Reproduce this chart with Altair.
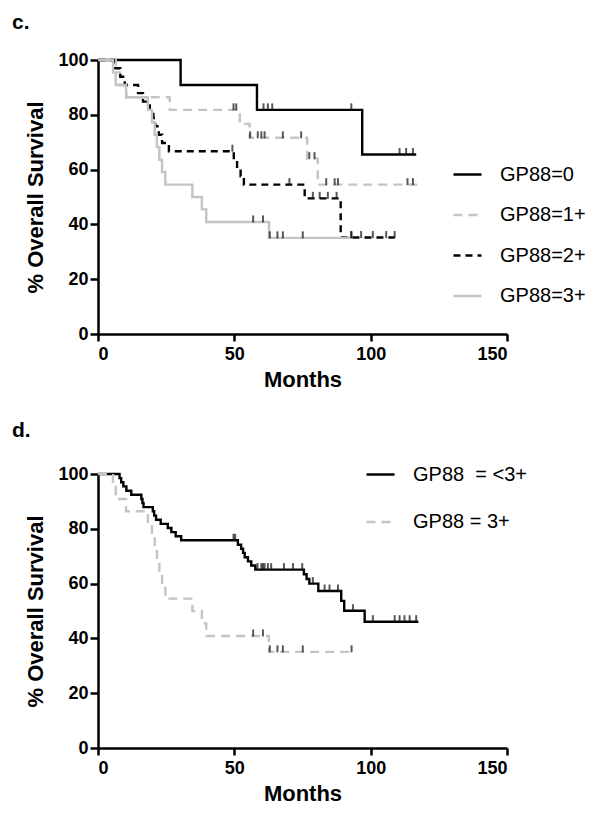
import altair as alt
import pandas as pd

# ---------------- Panel c data ----------------
groups_c = ["GP88=0", "GP88=1+", "GP88=2+", "GP88=3+"]

t_g0 = [0, 30.3, 58.3, 96.9, 116.7]
s_g0 = [100, 90.9, 81.8, 65.5, 65.5]
ct_g0 = [60.7, 62.3, 63.9, 92.9, 110.6, 113.0, 115.5]
cs_g0 = [81.8, 81.8, 81.8, 81.8, 65.5, 65.5, 65.5]

t_g1 = [0, 6.5, 8.0, 10.4, 26.3, 52.0, 55.6, 76.7, 80.6, 117.3]
s_g1 = [100, 95.5, 90.9, 86.4, 81.8, 76.7, 71.6, 64.0, 54.5, 54.5]
ct_g1 = [49.7, 50.7, 55.8, 58.6, 59.9, 61.1, 67.8, 74.5, 77.5, 79.4, 83.7, 86.8, 88.0, 113.5, 115.5]
cs_g1 = [81.8, 81.8, 71.6, 71.6, 71.6, 71.6, 71.6, 71.6, 64.0, 64.0, 54.5, 54.5, 54.5, 54.5, 54.5]

t_g2 = [0, 5.8, 8.2, 9.8, 14.7, 16.5, 19.0, 20.3, 21.0, 22.3, 23.5, 26.0, 49.8, 51.0, 52.3, 53.5, 75.8, 89.0, 108.8]
s_g2 = [100, 97.0, 93.9, 90.9, 87.9, 84.8, 81.8, 78.8, 75.8, 72.7, 69.7, 66.7, 63.6, 60.6, 57.6, 54.5, 49.5, 35.2, 35.2]
ct_g2 = [49.3, 70.2, 78.8, 81.3, 84.3, 87.5, 92.8, 96.5, 100.8, 105.7, 108.8]
cs_g2 = [66.7, 54.5, 49.5, 49.5, 49.5, 49.5, 35.2, 35.2, 35.2, 35.2, 35.2]

t_g3 = [0, 5.5, 6.5, 10.3, 18.3, 19.8, 20.8, 21.6, 22.5, 23.5, 24.7, 34.6, 38.1, 39.7, 62.7, 93.0]
s_g3 = [100, 95.5, 90.9, 86.4, 81.8, 77.3, 72.7, 68.2, 63.6, 59.1, 54.5, 50.0, 45.5, 40.9, 35.1, 35.1]
ct_g3 = [56.9, 60.5, 63.0, 65.8, 67.8, 75.1, 93.0]
cs_g3 = [40.9, 40.9, 35.1, 35.1, 35.1, 35.1, 35.1]

# ---------------- Panel d data ----------------
groups_d = ["GP88\u00a0 = <3+", "GP88 = 3+"]

t_lo = [0, 7.9, 8.5, 9.3, 10.4, 12.2, 15.9, 16.3, 16.7, 20.1, 20.6, 21.3, 23.0, 25.6, 26.9, 28.5, 30.5,
        51.3, 52.5, 53.2, 53.8, 55.0, 56.2, 57.7, 75.5, 76.5, 77.5, 80.8, 89.2, 90.3, 97.8, 117.5]
s_lo = [100, 98.5, 97.0, 95.5, 93.9, 92.4, 90.9, 89.4, 87.9, 86.4, 84.8, 83.3, 81.8, 80.3, 78.8, 77.3, 75.8,
        74.2, 72.7, 71.2, 69.6, 68.1, 66.6, 65.1, 63.4, 61.7, 60.0, 57.3, 53.7, 50.1, 46.1, 46.1]
ct_lo = [49.7, 50.3, 58.5, 59.9, 60.5, 61.1, 62.3, 63.5, 68.2, 71.5, 74.9, 78.8, 83.1, 84.9, 88.0, 93.5,
         100.8, 108.8, 110.6, 112.4, 114.3, 116.7]
cs_lo = [75.8, 75.8, 65.1, 65.1, 65.1, 65.1, 65.1, 65.1, 65.1, 65.1, 65.1, 60.0, 57.3, 57.3, 57.3, 50.1,
         46.1, 46.1, 46.1, 46.1, 46.1, 46.1]

x_ticks = [0, 50, 100, 150]
y_ticks = [0, 20, 40, 60, 80, 100]


def curves(names, ts, ss):
    rows = []
    for n, t, s in zip(names, ts, ss):
        for a, b in zip(t, s):
            rows.append({"group": n, "t": a, "s": b})
    return pd.DataFrame(rows)


lines_c = curves(groups_c, [t_g0, t_g1, t_g2, t_g3], [s_g0, s_g1, s_g2, s_g3])
cens_c = curves(groups_c, [ct_g0, ct_g1, ct_g2, ct_g3], [cs_g0, cs_g1, cs_g2, cs_g3])
lines_d = curves(groups_d, [t_lo, t_g3], [s_lo, s_g3])
cens_d = curves(groups_d, [ct_lo, ct_g3], [cs_lo, cs_g3])

FONT = "Liberation Sans"
GRAY = "#c4c4c4"


def panel(lines, cens, names, colors, dashes, label, lx, ly, rowpad):
    leg = alt.Legend(
        orient="none", legendX=lx, legendY=ly, title=None,
        symbolType="stroke", symbolSize=784, symbolStrokeWidth=2.4,
        labelFont=FONT, labelFontSize=20, labelColor="black",
        labelOffset=17, rowPadding=rowpad, labelLimit=300,
    )
    x = alt.X("t:Q", scale=alt.Scale(domain=[0, 150], nice=False),
              axis=alt.Axis(values=x_ticks, title="Months"))
    y = alt.Y("s:Q", scale=alt.Scale(domain=[0, 100], nice=False),
              axis=alt.Axis(values=y_ticks, title="% Overall Survival"))
    line = alt.Chart(lines).mark_line(interpolate="step-after", strokeWidth=2.4).encode(
        x=x, y=y,
        color=alt.Color("group:N", scale=alt.Scale(domain=names, range=colors), legend=leg),
        strokeDash=alt.StrokeDash("group:N", scale=alt.Scale(domain=names, range=dashes), legend=leg),
    )
    ticks = alt.Chart(cens).mark_tick(orient="vertical", size=7, thickness=2, color="#111111", yOffset=-3).encode(
        x="t:Q", y="s:Q"
    )
    return alt.layer(line, ticks).properties(
        width=409, height=274,
        title=alt.TitleParams(label, anchor="start", frame="bounds", font=FONT, fontSize=21,
                              fontWeight="bold", color="black", offset=18, dx=-13),
    )


pc = panel(lines_c, cens_c, groups_c, ["black", GRAY, "black", GRAY],
           [[1, 0], [9, 6], [7, 5], [1, 0]], "c.", 354, 99, 14.5)
pd_ = panel(lines_d, cens_d, groups_d, ["black", GRAY],
            [[1, 0], [9, 6]], "d.", 267, -15, 21.5)

chart = alt.vconcat(pc, pd_, spacing=30).resolve_scale(
    color="independent", strokeDash="independent"
).resolve_legend(
    color="independent", strokeDash="independent"
).properties(
    padding={"left": 3, "top": 4, "right": 0, "bottom": 5}
).configure_axis(
    grid=False, domainColor="black", domainWidth=2.5, tickColor="black", tickWidth=2.5,
    labelFont=FONT, labelFontSize=18, labelFontWeight="bold", labelColor="black",
    titleFont=FONT, titleFontSize=22, titleFontWeight="bold", titleColor="black",
).configure_axisX(tickSize=7, labelPadding=4, titlePadding=6
).configure_axisY(tickSize=8, labelPadding=2, titlePadding=10
).configure_view(stroke=None)

chart.save("out.html", embed_options={"renderer": "svg", "actions": False})
